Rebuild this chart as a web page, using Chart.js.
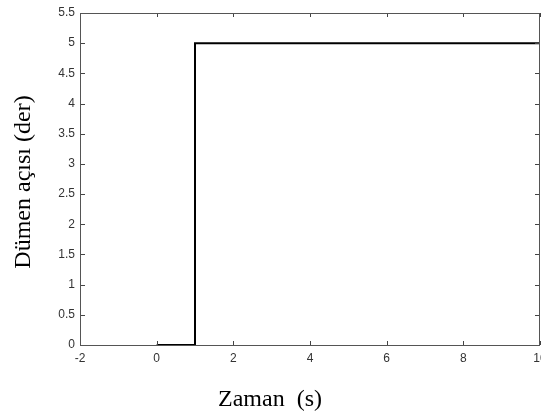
<!DOCTYPE html>
<html>
<head>
<meta charset="utf-8">
<script src="https://cdn.jsdelivr.net/npm/chart.js@4.4.0/dist/chart.umd.min.js"></script>
<style>
  html, body { margin: 0; padding: 0; background: #ffffff; }
  .chart-container { position: relative; width: 541px; height: 415px; }
</style>
</head>
<body>
<div class="chart-container">
  <canvas id="rudderChart" width="541" height="415"></canvas>
</div>
<script>
// step input: rudder angle vs time
const timeValues = [0, 1, 1, 10];
const angleValues = [0, 0, 5, 5];
const xTicks = [-2, 0, 2, 4, 6, 8, 10];
const yTicks = [0, 0.5, 1, 1.5, 2, 2.5, 3, 3.5, 4, 4.5, 5, 5.5];
const xTitle = 'Zaman  (s)';
const yTitle = 'Dümen açısı (der)';

const points = timeValues.map((t, i) => ({ x: t, y: angleValues[i] }));

// box + inward ticks on all four sides, like the matlab figure
const boxTicks = {
    id: 'boxTicks',
    afterDraw(chart) {
        const ctx = chart.ctx;
        const a = chart.chartArea;
        const xs = chart.scales.x;
        const ys = chart.scales.y;
        ctx.save();
        ctx.strokeStyle = '#444';
        ctx.lineWidth = 1;
        ctx.beginPath();
        xTicks.forEach(v => {
            const px = Math.round(xs.getPixelForValue(v)) + 0.5;
            ctx.moveTo(px, a.bottom); ctx.lineTo(px, a.bottom - 4);
            ctx.moveTo(px, a.top); ctx.lineTo(px, a.top + 4);
        });
        yTicks.forEach(v => {
            const py = Math.round(ys.getPixelForValue(v)) + 0.5;
            ctx.moveTo(a.left, py); ctx.lineTo(a.left + 5, py);
            ctx.moveTo(a.right, py); ctx.lineTo(a.right - 5, py);
        });
        ctx.stroke();
        ctx.strokeStyle = '#555';
        ctx.strokeRect(Math.round(a.left) + 0.5, Math.round(a.top) + 0.5,
            Math.round(a.right - a.left) - 1, Math.round(a.bottom - a.top));
        ctx.restore();
    }
};

// axis titles sit off-centre in the original, so place them by hand
const axisTitles = {
    id: 'axisTitles',
    afterDraw(chart) {
        const ctx = chart.ctx;
        ctx.save();
        ctx.fillStyle = '#000';
        ctx.font = '24px "Liberation Serif"';
        ctx.textAlign = 'center';
        ctx.textBaseline = 'alphabetic';
        ctx.fillText(xTitle, 270, 406);
        ctx.translate(30, 182);
        ctx.rotate(-Math.PI / 2);
        ctx.fillText(yTitle, 0, 0);
        ctx.restore();
    }
};

const ctx = document.getElementById('rudderChart').getContext('2d');
new Chart(ctx, {
    type: 'scatter',
    data: {
        datasets: [{
            data: points,
            showLine: true,
            borderColor: '#000',
            borderWidth: 2,
            pointRadius: 0,
            fill: false,
            tension: 0
        }]
    },
    options: {
        responsive: false,
        animation: false,
        layout: { padding: { top: 13, right: 1, left: 0, bottom: 0 } },
        plugins: { legend: { display: false }, tooltip: { enabled: false } },
        scales: {
            x: {
                type: 'linear',
                min: -2,
                max: 10,
                afterBuildTicks: s => { s.ticks = xTicks.map(v => ({ value: v })); },
                afterFit: s => { s.height = 70; s.paddingLeft = 0; s.paddingRight = 0; },
                grid: { display: false },
                border: { display: false },
                ticks: {
                    color: '#333',
                    font: { family: 'Liberation Sans', size: 12 },
                    padding: -2,
                    maxRotation: 0,
                    autoSkip: false,
                    callback: v => String(v)
                }
            },
            y: {
                type: 'linear',
                min: 0,
                max: 5.5,
                afterBuildTicks: s => { s.ticks = yTicks.map(v => ({ value: v })); },
                afterFit: s => { s.width = 80; },
                grid: { display: false, drawTicks: false },
                border: { display: false },
                ticks: {
                    color: '#333',
                    font: { family: 'Liberation Sans', size: 12 },
                    padding: 5,
                    autoSkip: false,
                    callback: v => String(v)
                }
            }
        }
    },
    plugins: [boxTicks, axisTitles]
});
</script>
</body>
</html>
